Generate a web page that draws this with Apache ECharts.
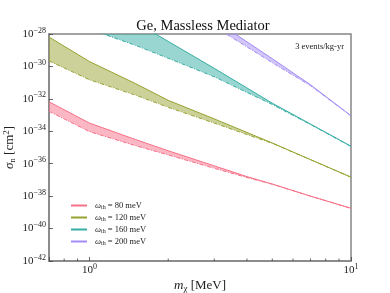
<!DOCTYPE html>
<html><head><meta charset="utf-8">
<script src="https://cdn.jsdelivr.net/npm/echarts@6/dist/echarts.min.js"></script>
<style>html,body{margin:0;padding:0;background:#fff}#c{width:390px;height:293px}</style>
</head><body><div id="c"></div>
<script>
// Dark matter mass m_chi [MeV]
const masses = [0.7, 1, 1.5, 2, 3, 4, 5, 7, 10];
// Cross-section bands sigma_n [cm^2] (upper / lower edge) per threshold
const upper80  = [6.6e-33, 3.2e-34, 3.1e-35, 6.3e-36, 7.4e-37, 1.6e-37, 5.6e-38, 1.0e-38, 1.8e-39];
const lower80  = [1.7e-33, 9.5e-35, 1.3e-35, 3.5e-36, 5.2e-37, 1.4e-37, 5.4e-38, 1.0e-38, 1.75e-39];
const upper120 = [6.5e-29, 2.0e-30, 8.7e-32, 8.1e-33, 5.8e-34, 8.5e-35, 1.9e-35, 1.8e-36, 1.5e-37];
const lower120 = [2.2e-30, 1.5e-31, 1.7e-32, 3.0e-33, 3.2e-34, 6.3e-35, 1.8e-35, 1.75e-36, 1.45e-37];
const upper160 = [1.0e-24, 3.2e-26, 5.2e-28, 3.5e-29, 7.6e-31, 4.7e-32, 5.4e-33, 2.8e-34, 1.2e-35];
const lower160 = [4.0e-27, 2.0e-28, 2.0e-29, 3.2e-30, 2.3e-31, 2.5e-32, 4.5e-33, 2.6e-34, 1.15e-35];
const upper200 = [null, null, null, 1.0e-26, 7.4e-28, 3.3e-29, 3.0e-30, 7.4e-32, 9.1e-34];
const lower200 = [null, null, null, 3.2e-27, 2.9e-28, 1.6e-29, 1.7e-30, 6.5e-32, 8.9e-34];
const thresholds = ['80', '120', '160', '200'];
// axis ranges / ticks (sigma axis drawn in decades: 1e-42 ... 1e-28)
const yDecadeMin = -42, yDecadeMax = -28, yDecadeStep = 2;
const xMinorTicks = [0.8, 0.9, 2, 3, 4, 5, 6, 7, 8, 9];

const colors = ['#f77189', '#97a431', '#36ada4', '#a48cf4'];
const uppers = [upper80, upper120, upper160, upper200];
const lowers = [lower80, lower120, lower160, lower200];
const SERIF = '"Liberation Serif", "DejaVu Serif", serif';

// sigma values are placed on a decade (log10) value axis
function pairs(xs, ys) {
  const out = [];
  for (let i = 0; i < xs.length; i++) if (ys[i] != null) out.push([xs[i], Math.log10(ys[i])]);
  return out;
}
function isPow10(v) { const l = Math.log10(v); return Math.abs(l - Math.round(l)) < 1e-6; }
function supLabel(e) { return '{b|10}{s|' + String(Math.round(e)).replace('-', '\u2212') + '}'; }

const series = [];
thresholds.forEach((t, k) => {
  const up = pairs(masses, uppers[k]), lo = pairs(masses, lowers[k]), col = colors[k];
  series.push({
    type: 'custom', name: 'band' + t, silent: true, z: 1,
    data: [[1, -35]],
    renderItem(params, api) {
      const pts = [];
      up.forEach(p => pts.push(api.coord(p)));
      lo.slice().reverse().forEach(p => pts.push(api.coord(p)));
      const cs = params.coordSys;
      return {
        type: 'polygon', shape: { points: pts },
        style: { fill: col, opacity: 0.5 },
        clipPath: { type: 'rect', shape: { x: cs.x, y: cs.y, width: cs.width, height: cs.height } }
      };
    }
  });
  series.push({
    type: 'line', name: t, data: up, symbol: 'none', z: 3,
    lineStyle: { color: col, width: 1 }, itemStyle: { color: col }
  });
  series.push({
    type: 'line', name: 'lo' + t, data: lo, symbol: 'none', z: 3,
    lineStyle: { color: col, width: 1, type: [4, 1.5, 1, 1.5] }, itemStyle: { color: col }
  });
});
// minor ticks on log x axis
series.push({
  type: 'custom', name: 'minor', silent: true, z: 5,
  data: xMinorTicks.map(v => [v, yDecadeMin]),
  renderItem(params, api) {
    const p = api.coord([api.value(0), api.value(1)]);
    return { type: 'line', shape: { x1: p[0], y1: p[1], x2: p[0], y2: p[1] - 2.5 },
             style: { stroke: '#444', lineWidth: 0.8 } };
  }
});

const chart = echarts.init(document.getElementById('c'), null, { renderer: 'canvas' });
chart.setOption({
  animation: false,
  backgroundColor: '#fff',
  title: [
    { text: 'Ge, Massless Mediator', left: 198, textAlign: 'center', top: 14,
      textStyle: { fontFamily: SERIF, fontSize: 14.5, fontWeight: 'normal', color: '#111' } },
    { text: '3 events/kg-yr', right: 41, top: 37,
      textStyle: { fontFamily: SERIF, fontSize: 8.5, fontWeight: 'normal', color: '#222' } }
  ],
  grid: { left: 49, right: 39, top: 34, bottom: 32, show: true, borderColor: '#858585', borderWidth: 1.5,
          containLabel: false, outerBoundsMode: 'none' },
  legend: {
    data: thresholds, orient: 'vertical', left: 66, top: 196, itemWidth: 16, itemHeight: 2,
    itemGap: 3, icon: 'rect',
    formatter: n => '{w|\u03c9}{sub|th}{t| = ' + n + ' meV}',
    textStyle: {
      fontFamily: SERIF, fontSize: 8.5, color: '#222', padding: [0, 0, 0, 3],
      rich: {
        w: { fontFamily: SERIF, fontSize: 8.5, fontStyle: 'italic', lineHeight: 9 },
        sub: { fontFamily: SERIF, fontSize: 6, lineHeight: 9, padding: [3, 0, 0, 0] },
        t: { fontFamily: SERIF, fontSize: 8.5, lineHeight: 9 }
      }
    }
  },
  xAxis: {
    type: 'log', logBase: 10, min: 0.7, max: 10,
    name: '{i|m}{sub|\u03c7}{t| [MeV]}', nameLocation: 'middle', nameGap: 17, nameMoveOverlap: false,
    nameTextStyle: {
      fontFamily: SERIF, fontSize: 13, color: '#222',
      rich: {
        i: { fontFamily: SERIF, fontSize: 13, fontStyle: 'italic' },
        sub: { fontFamily: SERIF, fontSize: 9, padding: [6, 0, 0, 0] },
        t: { fontFamily: SERIF, fontSize: 13 }
      }
    },
    axisLine: { show: true, lineStyle: { color: '#858585', width: 1.5 } },
    axisTick: { show: true, inside: true, length: 4, lineStyle: { color: '#444', width: 0.8 } },
    axisLabel: {
      margin: 2, color: '#222',
      formatter: v => isPow10(v) ? supLabel(Math.log10(v)) : '',
      rich: {
        b: { fontFamily: SERIF, fontSize: 11, color: '#222' },
        s: { fontFamily: SERIF, fontSize: 8, color: '#222', padding: [0, 0, 7, 0] }
      }
    },
    splitLine: { show: false }
  },
  yAxis: {
    type: 'value', min: yDecadeMin, max: yDecadeMax, interval: yDecadeStep,
    name: '{i|\u03c3}{sub|n}{t| [cm}{sup|2}{t|]}', nameLocation: 'middle', nameGap: 32, nameRotate: 90,
    nameMoveOverlap: false,
    nameTextStyle: {
      fontFamily: SERIF, fontSize: 13, color: '#222',
      rich: {
        i: { fontFamily: SERIF, fontSize: 13, fontStyle: 'italic' },
        sub: { fontFamily: SERIF, fontSize: 9, padding: [6, 0, 0, 0] },
        sup: { fontFamily: SERIF, fontSize: 9, padding: [0, 0, 6, 0] },
        t: { fontFamily: SERIF, fontSize: 13 }
      }
    },
    axisLine: { show: true, lineStyle: { color: '#858585', width: 1.5 } },
    axisTick: { show: true, inside: true, length: 4, lineStyle: { color: '#444', width: 0.8 } },
    axisLabel: {
      margin: 3, color: '#222',
      formatter: v => supLabel(v),
      rich: {
        b: { fontFamily: SERIF, fontSize: 11, color: '#222' },
        s: { fontFamily: SERIF, fontSize: 8, color: '#222', padding: [0, 0, 7, 0] }
      }
    },
    splitLine: { show: false }
  },
  series: series
});
</script>
</body></html>
